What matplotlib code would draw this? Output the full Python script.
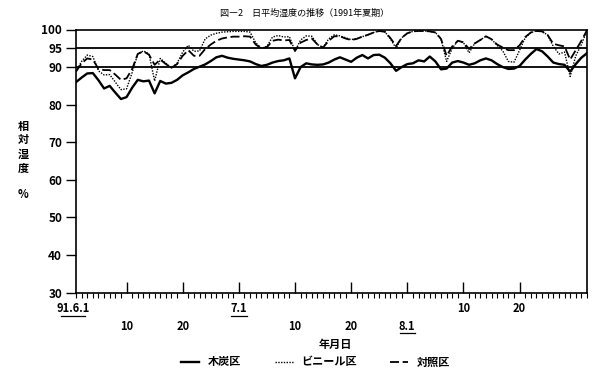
import matplotlib
matplotlib.use("Agg")
import matplotlib.pyplot as plt
from matplotlib.transforms import blended_transform_factory
from matplotlib.lines import Line2D

plt.rcParams['font.family'] = ['Noto Sans CJK JP', 'DejaVu Sans']

# ---- data (day index 0 = 1991-06-01 ... 91 = 1991-08-31) ----
days = list(range(92))

charcoal = [86.0, 87.2, 88.3, 88.4, 86.5, 84.3, 85.0, 83.2, 81.5, 82.0,
            84.5, 86.6, 86.2, 86.4, 83.0, 86.3, 85.6, 85.8, 86.6, 87.8,
            88.6, 89.5, 90.1, 90.7, 91.6, 92.6, 93.0, 92.5, 92.2, 92.0,
            91.8, 91.5, 90.8, 90.3, 90.6, 91.2, 91.6, 91.8, 92.3, 87.0,
            90.0, 91.0, 90.7, 90.6, 90.7, 91.2, 92.0, 92.6, 92.0, 91.4,
            92.5, 93.2, 92.3, 93.2, 93.3, 92.5, 91.0, 89.0, 90.0, 90.8,
            91.0, 91.8, 91.5, 92.8, 91.5, 89.4, 89.6, 91.2, 91.6, 91.2,
            90.6, 91.0, 91.8, 92.3, 91.8, 90.8, 90.0, 89.5, 89.6, 90.3,
            92.0, 93.5, 94.8, 94.2, 92.8, 91.2, 90.8, 90.6, 88.8, 90.8,
            92.5, 93.7]

vinyl = [88.8, 91.5, 93.2, 92.8, 89.0, 87.9, 88.0, 86.0, 84.0, 84.2,
         88.5, 93.5, 94.3, 93.5, 86.3, 92.3, 91.0, 89.8, 91.0, 94.0,
         95.8, 94.2, 94.3, 97.5, 98.5, 99.0, 99.3, 99.4, 99.5, 99.5,
         99.5, 99.3, 96.5, 95.0, 95.5, 98.0, 98.4, 98.0, 98.1, 94.3,
         97.2, 98.3, 98.2, 96.0, 95.2, 97.5, 98.6, 98.3, 97.8, 97.3,
         97.6, 98.1, 98.6, 99.2, 99.6, 99.4, 97.5, 95.0, 97.8, 99.0,
         99.5, 99.6, 99.6, 99.5, 99.2, 97.5, 91.5, 95.0, 97.0, 96.5,
         93.8, 96.3, 97.2, 98.2, 97.4, 95.8, 94.3, 91.5, 91.3, 94.5,
         97.8, 99.2, 99.6, 99.5, 98.5, 95.5, 93.5, 94.0, 87.5, 93.0,
         96.0, 99.8]

control = [88.8, 91.0, 92.3, 92.0, 89.5, 89.2, 89.2, 88.0, 86.6, 87.0,
           89.5, 93.5, 94.2, 93.3, 90.6, 92.0, 90.8, 89.8, 90.8, 93.0,
           94.5, 93.0, 93.0, 94.8, 96.0, 97.0, 97.6, 97.9, 98.1, 98.1,
           98.2, 98.1, 96.0, 95.0, 95.3, 97.0, 97.3, 97.1, 97.2, 94.3,
           96.5, 97.2, 97.6, 96.0, 95.2, 97.0, 98.2, 98.2, 97.6, 97.2,
           97.5, 98.1, 98.6, 99.2, 99.6, 99.4, 97.7, 95.6, 97.8, 99.0,
           99.5, 99.6, 99.6, 99.5, 99.2, 97.5, 93.0, 95.5, 97.0, 96.6,
           94.8, 96.3, 97.2, 98.2, 97.4, 96.0, 95.2, 94.5, 94.5, 95.8,
           98.0, 99.2, 99.6, 99.5, 98.5, 96.2, 95.8, 95.5, 92.0, 94.5,
           97.0, 99.8]

series_names = ['木炭区', 'ビニール区', '対照区']
yticks = [30, 40, 50, 60, 70, 80, 90, 95, 100]
ref_levels = [90, 95]

tick_days = [9, 19, 29, 39, 49, 59, 69, 79]
date_labels = ['91.6.1', '10', '20', '7.1', '10', '20', '8.1', '10', '20']
date_label_days = [0, 9, 19, 29, 39, 49, 59, 69, 79]
date_label_row = [1, 2, 2, 1, 2, 2, 2, 1, 1]
date_label_underline = [True, False, False, True, False, False, True, False, False]

# ---- figure ----
fig = plt.figure(figsize=(6.0, 3.74), dpi=100)
ax = fig.add_axes([76/600, (374-292.5)/374, (587-76)/600, (292.5-29.5)/374])

l1, = ax.plot(days, charcoal, color='black', lw=1.7, solid_joinstyle='round')
l2, = ax.plot(days, vinyl, color='black', lw=1.0, linestyle=(0, (1, 1)))
l3, = ax.plot(days, control, color='black', lw=1.3, linestyle=(0, (5, 2)))

for lv in ref_levels:
    ax.axhline(lv, color='black', lw=1.3)

ax.set_xlim(0, 91)
ax.set_ylim(30, 100)

for s in ['left', 'right', 'bottom', 'top']:
    ax.spines[s].set_linewidth(1.2)
    ax.spines[s].set_color('black')

ax.set_yticks(yticks)
ax.set_yticklabels([str(v) for v in yticks], fontsize=8.5, fontweight='bold')
ax.tick_params(axis='y', direction='out', length=7, width=1.0, pad=3)

ax.set_xticks(tick_days)
ax.set_xticklabels([])
ax.set_xticks(days, minor=True)
ax.tick_params(axis='x', which='major', direction='in', length=8, width=1.0)
ax.tick_params(axis='x', which='minor', direction='out', length=3.5, width=0.8)

trans = blended_transform_factory(ax.transData, ax.transAxes)
axh = 263.0
for lab, d, row, ul in zip(date_labels, date_label_days, date_label_row, date_label_underline):
    ypix = 309 if row == 1 else 326
    yax = (292.5 - ypix) / axh
    xd = d - 0.5 if d == 0 else d
    t = ax.text(xd, yax, lab, transform=trans, ha='center', va='center',
                fontsize=8, fontweight='bold', clip_on=False)
    if ul:
        half = 0.25 * len(lab) * 1.05 + 0.6
        yu = (292.5 - (ypix + 7)) / axh
        ax.add_line(Line2D([xd - half, xd + half], [yu, yu], transform=trans,
                           color='black', lw=0.9, clip_on=False))

fig.text(335/600, 1 - 344/374, '年月日', ha='center', va='center',
         fontsize=8, fontweight='bold')

# y label stacked
ylab_chars = ['相', '対', '湿', '度']
for i, ch in enumerate(ylab_chars):
    fig.text(23/600, 1 - (126 + i * 14)/374, ch, ha='center', va='center',
             fontsize=8, fontweight='bold')
fig.text(23/600, 1 - 194/374, '%', ha='center', va='center',
         fontsize=8, fontweight='bold')

fig.text(305/600, 1 - 13/374, '図―2　日平均湿度の推移（1991年夏期）',
         ha='center', va='center', fontsize=6.5)

leg = fig.legend([l1, l2, l3], series_names, loc='center',
                 bbox_to_anchor=(316/600, 1 - 362/374), ncol=3, frameon=False,
                 handlelength=1.6, columnspacing=3.0, handletextpad=0.8,
                 prop={'size': 8, 'weight': 'bold'})

fig.savefig('out.png', dpi=100, facecolor='white')
